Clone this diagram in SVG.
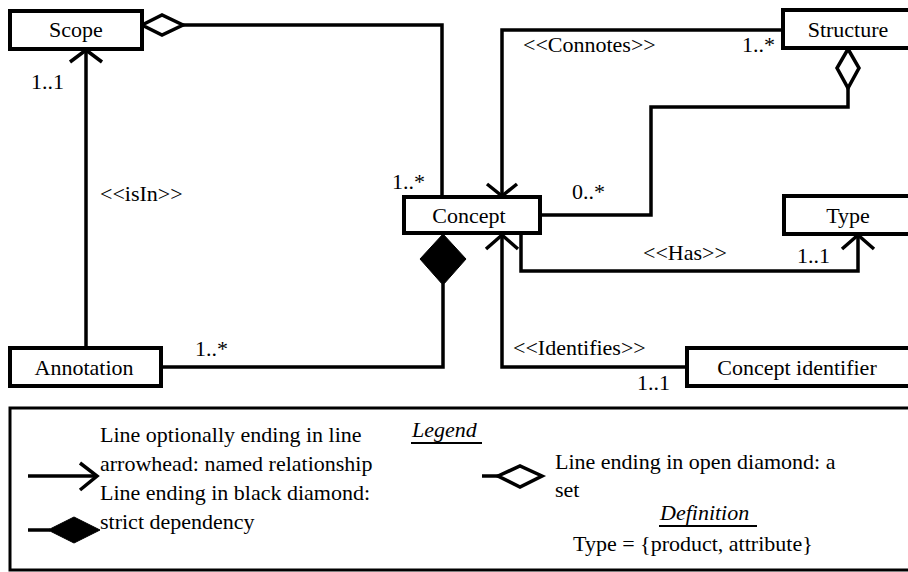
<svg xmlns="http://www.w3.org/2000/svg" width="908" height="572" viewBox="0 0 908 572">
<style>
  .box { fill: #fff; stroke: #000; stroke-width: 4; }
  .ln { fill: none; stroke: #000; stroke-width: 3.5; stroke-linejoin: miter; }
  .od { fill: #fff; stroke: #000; stroke-width: 3.5; }
  .bd { fill: #000; stroke: #000; stroke-width: 1; }
  .ul { stroke: #000; stroke-width: 2; }
  text { font-family: "Liberation Serif", "Times New Roman", serif; font-size: 22px; fill: #000; }
  .c { text-anchor: middle; }
  .it { font-style: italic; }
</style>
<rect width="908" height="572" fill="#fff"/>
<g id="connectors">
  <polyline class="ln" points="183,25 442,25 442,197"/>
  <polygon class="od" points="142,25 162,15 183,25 162,35"/>
  <line class="ln" x1="86" y1="347" x2="86" y2="50"/>
  <polyline class="ln" points="70,62 86,50 102,62"/>
  <polyline class="ln" points="783,30 502,30 502,196"/>
  <polyline class="ln" points="487,184 502,196 517,184"/>
  <polyline class="ln" points="848,88 848,107 651,107 651,215 540,215"/>
  <polygon class="od" points="848,49 859,68 848,88 837,68"/>
  <polyline class="ln" points="521,234 521,271 858,271 858,235"/>
  <polyline class="ln" points="842,249 858,235 874,249"/>
  <polyline class="ln" points="687,367 502,367 502,235"/>
  <polyline class="ln" points="486,249 502,235 518,249"/>
  <polyline class="ln" points="443,284 443,367 161,367"/>
  <polygon class="bd" points="443,234 466,259 443,285 420,259"/>
</g>
<g id="scope">
  <rect class="box" x="10" y="11" width="132" height="38"/>
  <text class="c" x="76" y="37">Scope</text>
</g>
<g id="structure">
  <rect class="box" x="783" y="10" width="140" height="38"/>
  <text class="c" x="848" y="37">Structure</text>
</g>
<g id="concept">
  <rect class="box" x="404" y="197" width="136" height="36"/>
  <text class="c" x="469" y="223">Concept</text>
</g>
<g id="type">
  <rect class="box" x="784" y="196" width="140" height="38"/>
  <text class="c" x="848" y="223">Type</text>
</g>
<g id="annotation">
  <rect class="box" x="10" y="348" width="151" height="38"/>
  <text class="c" x="84" y="375">Annotation</text>
</g>
<g id="concept-identifier">
  <rect class="box" x="687" y="348" width="240" height="38"/>
  <text class="c" x="797" y="375">Concept identifier</text>
</g>
<g id="labels">
  <text x="31" y="89">1..1</text>
  <text x="100" y="201">&lt;&lt;isIn&gt;&gt;</text>
  <text x="392" y="189">1..*</text>
  <text x="523" y="52">&lt;&lt;Connotes&gt;&gt;</text>
  <text x="742" y="52">1..*</text>
  <text x="572" y="199">0..*</text>
  <text x="643" y="260">&lt;&lt;Has&gt;&gt;</text>
  <text x="797" y="263">1..1</text>
  <text x="513" y="355">&lt;&lt;Identifies&gt;&gt;</text>
  <text x="637" y="390">1..1</text>
  <text x="195" y="356">1..*</text>
</g>
<g id="legend">
  <rect x="10" y="408" width="930" height="162" fill="none" stroke="#000" stroke-width="3"/>
  <text class="it" x="412" y="437">Legend</text>
  <line class="ul" x1="411" y1="443" x2="482" y2="443"/>
  <line class="ln" x1="28" y1="476" x2="96" y2="476"/>
  <polyline class="ln" points="80,463 97,476 80,490"/>
  <text x="100" y="442">Line optionally ending in line</text>
  <text x="100" y="471">arrowhead: named relationship</text>
  <line class="ln" x1="28" y1="530" x2="50" y2="530"/>
  <polygon class="bd" points="48,530 74,517 100,530 74,543"/>
  <text x="100" y="500">Line ending in black diamond:</text>
  <text x="100" y="529">strict dependency</text>
  <line class="ln" x1="482" y1="476" x2="499" y2="476"/>
  <polygon class="od" points="498,476 520,466 542,476 520,487"/>
  <text x="555" y="469">Line ending in open diamond: a</text>
  <text x="555" y="497">set</text>
  <text class="it" x="660" y="520">Definition</text>
  <line class="ul" x1="659" y1="526" x2="757" y2="526"/>
  <text x="573" y="551">Type = {product, attribute}</text>
</g>
</svg>
